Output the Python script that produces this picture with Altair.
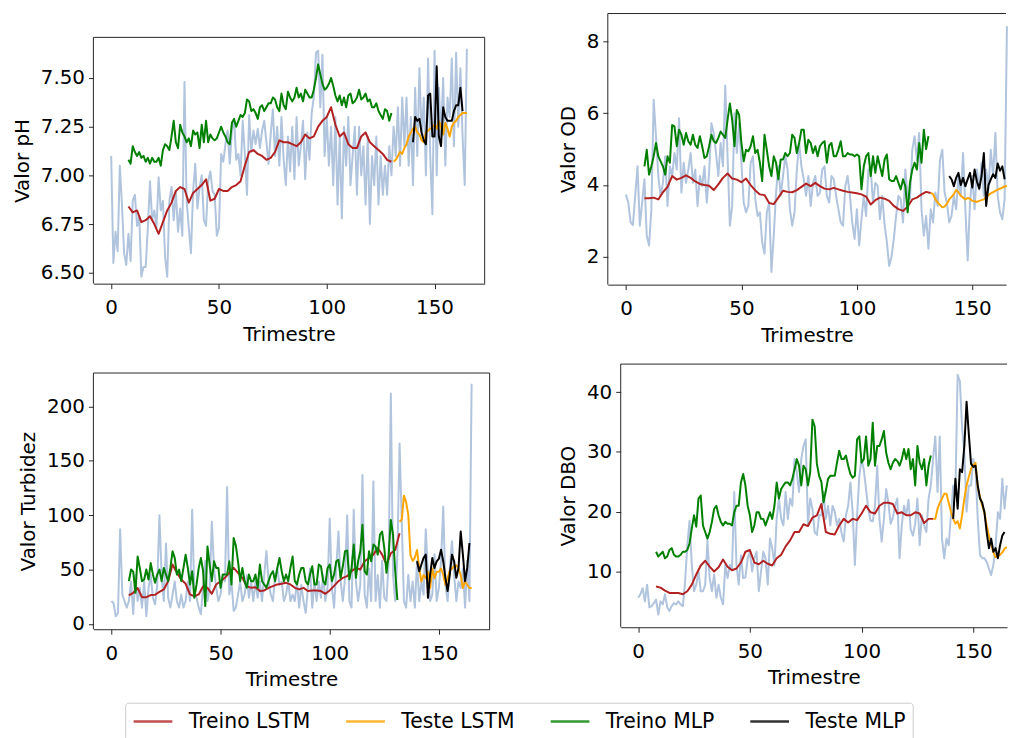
import altair as alt
import pandas as pd

# ---------------- data ----------------
T_TICKS = [0, 50, 100, 150]
SERIES = ["Treino LSTM", "Teste LSTM", "Treino MLP", "Teste MLP"]
COLORS = ["#b22222", "#ffa500", "#008000", "#000000"]
RAW_COLOR = "#b0c4de"
FRAME = "#262626"

# ---- pH ----
PH_RAW = [7.10, 6.55, 6.71, 6.61, 7.05, 6.85, 6.60, 6.54, 6.70, 6.56,
          6.87, 6.90, 6.74, 6.79, 6.48, 6.53, 6.53, 6.73, 6.97, 6.77,
          6.82, 6.73, 6.99, 6.82, 6.87, 6.58, 6.48, 6.87, 6.94, 6.77,
          6.92, 6.71, 6.83, 6.69, 7.48, 6.87, 6.73, 6.60, 6.92, 7.06,
          6.83, 6.94, 7.00, 6.77, 6.74, 6.97, 7.02, 6.92, 6.90, 6.69,
          6.73, 7.11, 7.07, 7.16, 7.23, 7.06, 7.23, 7.29, 7.08, 7.11,
          7.00, 7.28, 7.11, 6.90, 7.31, 7.12, 7.23, 7.16, 7.24, 7.14,
          7.23, 7.28, 7.17, 7.06, 7.21, 7.34, 7.10, 7.25, 7.05, 7.30,
          7.08, 6.95, 7.20, 7.02, 7.25, 6.98, 7.30, 7.05, 7.15, 7.28,
          6.98, 7.22, 7.08, 7.32, 7.40, 7.63, 7.64, 7.35, 7.62, 7.10,
          7.30, 7.05, 7.25, 6.95, 7.30, 6.85, 7.20, 6.78, 7.25, 7.05,
          7.30, 6.95, 7.10, 7.25, 6.90, 7.25, 7.00, 7.15, 6.85, 7.20,
          6.75, 7.10, 6.95, 7.20, 6.85, 7.10, 6.90, 7.05, 6.90, 7.15,
          7.00, 7.25, 7.10, 7.35, 7.05, 7.40, 7.15, 7.40, 7.05, 7.30,
          6.95, 7.45, 7.10, 7.55, 7.20, 7.40, 7.00, 7.60, 7.10, 6.80,
          7.64, 7.00, 7.45, 7.20, 7.50, 7.05, 7.40, 7.30, 7.60, 7.15,
          7.63, 7.25, 7.55, 7.20, 6.95, 7.65]
PH_LSTM_TREINO = [6.84, 6.81, 6.82, 6.76, 6.77, 6.79, 6.75, 6.70, 6.76, 6.82,
                  6.86, 6.92, 6.94, 6.93, 6.86, 6.91, 6.93, 6.95, 6.98, 6.87,
                  6.88, 6.93, 6.92, 6.92, 6.94, 6.95, 6.97, 7.05, 7.12, 7.13,
                  7.11, 7.10, 7.08, 7.09, 7.12, 7.18, 7.17, 7.17, 7.16, 7.15,
                  7.17, 7.21, 7.19, 7.20, 7.25, 7.28, 7.30, 7.35, 7.26, 7.20,
                  7.22, 7.16, 7.14, 7.14, 7.20, 7.22, 7.17, 7.15, 7.13, 7.11,
                  7.08, 7.07]
PH_LSTM_TESTE = [7.07, 7.08, 7.10, 7.12, 7.11, 7.14, 7.16, 7.20, 7.22, 7.24,
                 7.25, 7.22, 7.21, 7.18, 7.17, 7.22, 7.23, 7.24, 7.25, 7.26,
                 7.24, 7.28, 7.25, 7.21, 7.27, 7.24, 7.20, 7.25, 7.27, 7.28,
                 7.30, 7.31, 7.32, 7.32, 7.32]
PH_MLP_TREINO = [7.08, 7.06, 7.15, 7.12, 7.10, 7.12, 7.09, 7.10, 7.07, 7.09,
                 7.06, 7.09, 7.07, 7.07, 7.09, 7.05, 7.13, 7.16, 7.15, 7.13,
                 7.20, 7.28, 7.17, 7.14, 7.26, 7.22, 7.20, 7.17, 7.19, 7.15,
                 7.23, 7.21, 7.22, 7.14, 7.26, 7.17, 7.28, 7.17, 7.21, 7.19,
                 7.18, 7.19, 7.22, 7.25, 7.22, 7.20, 7.17, 7.16, 7.27, 7.29,
                 7.25, 7.28, 7.31, 7.30, 7.32, 7.39, 7.38, 7.33, 7.34, 7.32,
                 7.29, 7.35, 7.36, 7.33, 7.35, 7.37, 7.37, 7.40, 7.39, 7.35,
                 7.33, 7.42, 7.36, 7.34, 7.43, 7.40, 7.38, 7.40, 7.45, 7.40,
                 7.42, 7.38, 7.44, 7.42, 7.40, 7.40, 7.44, 7.50, 7.57, 7.52,
                 7.47, 7.44, 7.45, 7.47, 7.50, 7.46, 7.41, 7.38, 7.41, 7.36,
                 7.40, 7.35, 7.41, 7.42, 7.37, 7.38, 7.40, 7.44, 7.39, 7.40,
                 7.42, 7.38, 7.39, 7.35, 7.35, 7.37, 7.33, 7.31, 7.29, 7.34,
                 7.33, 7.28, 7.32]
PH_MLP_TESTE = [7.17, 7.30, 7.28, 7.29, 7.22, 7.18, 7.16, 7.41, 7.42, 7.20,
                7.20, 7.56, 7.20, 7.15, 7.35, 7.30, 7.28, 7.28, 7.28, 7.33,
                7.36, 7.36, 7.45, 7.33]

# ---- OD ----
OD_RAW = [3.74, 3.51, 2.96, 2.89, 3.70, 4.52, 2.87, 3.51, 4.16, 2.59,
          2.32, 3.33, 6.37, 5.36, 4.25, 3.70, 4.06, 4.80, 3.42, 4.52,
          4.25, 4.89, 4.43, 5.86, 3.79, 4.62, 4.06, 4.43, 4.89, 4.06,
          4.43, 3.42, 4.25, 3.97, 4.52, 3.51, 4.34, 5.72, 5.45, 4.89,
          4.25, 5.17, 4.52, 6.77, 4.80, 2.87, 3.42, 6.00, 4.89, 5.72,
          4.62, 3.51, 3.24, 3.42, 4.62, 4.80, 3.61, 3.14, 3.24, 2.41,
          2.09, 3.24, 3.51, 1.58, 2.59, 3.79, 4.52, 3.70, 4.25, 4.80,
          4.43, 3.33, 2.87, 3.24, 4.43, 5.17, 4.52, 4.16, 3.70,
          4.25, 3.42, 4.06, 4.25, 3.70, 3.79, 4.43, 4.52, 3.70, 3.51,
          4.25, 4.16, 3.70, 3.33, 2.96, 2.87, 3.97, 4.25, 3.70, 2.96,
          2.50, 3.33, 2.32, 3.05, 3.70, 3.14, 4.43, 4.43, 3.51, 4.06,
          3.97, 3.05, 3.70, 2.90, 2.41, 1.75, 2.00, 2.50, 3.14, 3.70,
          3.60, 2.96, 4.43, 3.70, 3.61, 4.98, 5.36, 4.70, 5.45, 3.33,
          2.59, 3.14, 2.23, 3.33, 2.96, 3.79, 3.42, 4.70, 4.98, 3.79,
          3.51, 2.96, 3.14, 3.70, 3.33, 4.25, 3.70, 4.89, 3.33, 1.90,
          3.51, 4.25, 3.33, 4.43, 3.88, 4.62, 3.70, 4.43, 3.88, 4.98,
          4.25, 5.45, 3.70, 3.24, 3.05, 3.60, 8.42]
OD_LSTM_TREINO = [3.63, 3.63, 3.65, 3.60, 3.80, 3.95, 4.25, 4.15, 4.20, 4.27,
                  4.20, 4.10, 4.03, 4.00, 3.98, 3.86, 4.02, 4.20, 4.32, 4.18,
                  4.15, 4.08, 4.18, 4.00, 3.85, 3.74, 3.72, 3.50, 3.47, 3.65,
                  3.84, 3.81, 3.80, 3.86, 3.95, 4.04, 3.97, 4.06, 3.97, 3.90,
                  3.88, 3.92, 3.88, 3.84, 3.81, 3.79, 3.77, 3.74, 3.68, 3.46,
                  3.58, 3.65, 3.62, 3.56, 3.42, 3.33, 3.28, 3.40, 3.60, 3.65,
                  3.74, 3.81, 3.78]
OD_LSTM_TESTE = [3.78, 3.75, 3.60, 3.52, 3.45, 3.38, 3.40, 3.48, 3.60, 3.67,
                 3.75, 3.86, 3.80, 3.70, 3.65, 3.60, 3.64, 3.62, 3.56, 3.55,
                 3.53, 3.56, 3.58, 3.60, 3.68, 3.72, 3.77, 3.80, 3.84, 3.87,
                 3.90, 3.93, 3.96, 3.98]
OD_MLP_TREINO = [4.52, 4.98, 4.29, 4.52, 4.80, 5.17, 4.80, 4.66, 4.52, 4.29,
                 4.80, 4.62, 5.67, 5.63, 5.08, 5.54, 5.40, 5.12, 5.45, 5.22,
                 5.12, 5.40, 5.12, 5.03, 5.36, 5.08, 4.75, 4.80, 5.08, 5.40,
                 5.22, 5.17, 5.31, 5.49, 5.40, 5.31, 5.81, 6.27, 5.81, 5.08,
                 6.09, 5.95, 5.17, 4.66, 4.98, 4.94, 5.08, 5.36, 4.89, 4.98,
                 4.62, 4.11, 5.40, 4.98, 4.52, 4.25, 4.80, 4.62, 4.16, 4.71,
                 4.71, 4.89, 4.80, 4.89, 5.40, 5.31, 4.89, 5.17, 5.54, 5.54,
                 4.89, 5.26, 5.17, 4.89, 5.08, 4.80, 5.08, 5.17, 5.22, 4.62,
                 5.10, 5.17, 4.80, 4.80, 4.98, 5.22, 4.80, 4.80, 4.89, 4.85,
                 4.85, 4.80, 4.85, 4.80, 3.88, 4.52, 4.80, 4.89, 4.25, 4.80,
                 4.34, 4.80, 4.52, 4.25, 4.71, 4.85, 4.16, 4.11, 4.11, 4.25,
                 4.06, 3.88, 4.16, 3.97, 3.24, 4.06, 4.43, 4.62, 4.43, 5.17,
                 4.62, 5.54, 5.00, 5.36]
OD_MLP_TESTE = [4.25, 4.16, 3.97, 4.20, 4.34, 4.00, 4.20, 3.97, 4.16, 4.34,
                3.93, 4.43, 4.10, 3.90, 4.25, 4.89, 3.42, 4.00, 4.16, 4.30,
                4.20, 4.60, 4.40, 4.52, 4.16]

# ---- Turbidez ----
TURB_RAW = [21, 19, 7, 10, 87, 27, 21, 15, 21, 39,
            9, 45, 21, 33, 15, 39, 7, 33, 45, 24,
            18, 36, 100, 45, 21, 74, 24, 15, 27, 39,
            21, 15, 27, 15, 21, 39, 21, 105, 27, 24,
            15, 9, 36, 58, 21, 33, 94, 51, 33, 21,
            27, 45, 39, 126, 27, 39, 12, 15, 27, 39,
            21, 27, 45, 24, 39, 21, 39, 24, 39, 21,
            45, 67, 39, 27, 21, 45, 51, 36, 39, 21,
            27, 39, 21,
            27, 21, 39, 15, 36, 21, 10, 33, 51, 15,
            39, 21, 39, 24, 45, 21, 33, 97, 33, 15,
            51, 85, 39, 21, 42, 100, 21, 15, 105, 39,
            21, 36, 137, 27, 15, 51, 21, 131, 21, 45,
            15, 58, 24, 21, 58, 212, 45, 21, 64, 166,
            94, 21, 15, 45, 21, 39, 15, 58, 21, 39,
            27, 87, 45, 21, 27, 64, 21, 33, 58, 108,
            36, 21, 51, 76, 45, 21, 39, 33, 51, 15,
            58, 21, 221]
TURB_LSTM_TREINO = [26.2, 28.6, 33.0, 24.6, 24.6, 26.5, 26.8, 29.5, 31.7, 39.3,
                    54.6, 47.0, 40.8, 36.9, 27.1, 25.3, 27.1, 34.7, 33.2, 27.7,
                    36.3, 39.3, 42.4, 47.0, 51.5, 47.0, 42.4, 34.7, 33.2, 33.8,
                    30.2, 30.8, 33.2, 34.7, 36.3, 36.9, 37.8, 36.3, 33.2, 31.7,
                    33.2, 30.2, 30.8, 30.8, 30.2, 27.7, 30.8, 35.0, 39.3, 42.4,
                    44.0, 48.5, 51.5, 50.0, 57.6, 60.7, 63.7, 69.8, 63.7, 54.6,
                    65.0, 68.0, 83.5]
TURB_LSTM_TESTE = [94, 96, 118, 112, 100, 63, 58, 61, 68, 51,
                   39, 45, 42, 48, 33, 51, 42, 48, 48, 51,
                   45, 36, 42, 49, 51, 53, 54, 51, 45, 33,
                   39, 36, 33, 33]
TURB_MLP_TREINO = [39.3, 50.0, 48.0, 28.6, 62.0, 51.5, 39.3, 40.8, 50.0, 40.8,
                   56.0, 45.4, 37.8, 45.4, 50.0, 39.3, 51.5, 45.4, 39.3, 51.5,
                   66.8, 60.7, 45.4, 50.0, 39.3, 51.5, 63.7, 51.5, 36.3, 48.5,
                   24.0, 36.3, 51.5, 60.7, 48.5, 16.4, 71.3, 54.6, 39.3, 57.6,
                   51.5, 51.5, 33.2, 45.4, 45.4, 45.4, 57.6, 36.3, 79.0, 72.0,
                   57.6, 39.3, 51.5, 39.3, 33.2, 45.4, 39.3, 39.3, 45.4, 33.2,
                   54.6, 39.3, 36.3, 33.2, 39.3, 45.4, 48.5, 39.3, 51.5, 60.7,
                   48.5, 39.3, 45.4, 39.3, 51.5, 62.0, 39.3, 36.3, 45.4, 51.5,
                   51.5, 39.3, 36.3, 45.4, 53.0, 36.3, 36.3, 54.6, 53.0, 39.3,
                   36.3, 51.5, 54.6, 39.3, 45.4, 57.6, 59.0, 42.4, 53.0, 66.8,
                   67.4, 41.0, 51.5, 73.0, 42.4, 57.6, 66.8, 91.2, 48.5, 45.4,
                   66.8, 57.6, 73.0, 71.3, 63.7, 82.0, 85.0, 69.8, 47.0, 63.7,
                   95.7, 82.0, 48.5, 22.0]
TURB_MLP_TESTE = [57.6, 48.5, 54.6, 60.7, 63.7, 24.0, 45.4, 60.7, 51.5, 57.6,
                  60.0, 68.3, 57.6, 42.4, 30.2, 45.4, 63.7, 57.6, 42.4, 51.5,
                  85.0, 63.7, 39.3, 51.5, 74.4]

# ---- DBO ----
DBO_RAW = [5.6, 6.2, 7.2, 5.0, 7.8, 4.0, 4.2, 4.7, 5.3, 2.8,
           5.0, 4.5, 6.2, 4.0, 3.4, 4.2, 4.7, 4.5, 5.0, 4.5,
           4.2, 8.3, 14.4, 18.5, 11.1, 6.7, 7.8, 10.0, 6.7, 6.7,
           7.8, 15.2, 8.9, 6.7, 9.5, 5.6, 7.8, 5.6, 4.5, 11.1,
           8.9, 11.1, 10.5, 23.3, 11.1, 7.8, 12.7, 8.9, 9.0, 12.2,
           13.3, 10.0, 12.2, 13.3, 6.7, 10.0, 13.3, 12.2, 7.8, 15.5,
           13.9, 11.1, 18.8, 22.2, 18.8, 17.7, 23.3, 18.8, 22.2, 21.0,
           28.8, 26.6, 23.3, 28.8, 31.0, 32.1, 17.7, 22.2, 20.5, 16.6,
           16.1, 19.4, 19.4, 23.3, 18.8, 21.0, 17.7, 21.0, 20.0, 17.7,
           18.8, 16.5, 15.0, 19.4, 21.0, 24.9, 20.0, 11.1, 19.4, 26.0,
           28.8, 27.0, 23.8, 20.5, 18.5, 18.4, 21.0, 27.7, 18.8, 15.0,
           18.8, 23.8, 21.5, 18.0, 19.0, 21.0, 22.2, 12.2, 17.7, 21.0,
           19.4, 22.0, 17.0, 16.0, 18.0, 22.2, 14.4, 19.4, 17.7, 16.6,
           22.2, 24.4, 28.8, 32.6, 23.3, 32.6, 15.5, 12.2, 15.5, 14.4,
           19.4, 24.4, 23.3, 42.9, 41.8, 34.0, 29.9, 20.0, 24.4, 24.4,
           28.8, 27.1, 18.8, 12.8, 12.2, 12.2, 11.6, 10.5, 9.4, 11.1,
           14.4, 19.9, 18.8, 25.5, 20.5, 24.4]
DBO_LSTM_TREINO = [7.5, 7.3, 6.8, 6.4, 6.4, 6.4, 6.2, 6.7, 7.8, 9.5,
                   11.0, 11.8, 10.8, 10.0, 10.7, 12.0, 10.8, 10.2, 10.5, 11.5,
                   13.3, 13.6, 11.5, 11.2, 11.8, 11.3, 11.0, 12.2, 12.8, 14.2,
                   15.2, 16.6, 16.6, 17.9, 17.6, 19.0, 19.4, 21.3, 16.6, 16.3,
                   16.2, 17.7, 18.8, 18.2, 18.8, 18.6, 19.7, 21.0, 19.9, 19.7,
                   21.0, 21.5, 21.5, 21.3, 19.7, 19.9, 19.4, 19.4, 19.9, 19.7,
                   18.1, 18.8, 18.8]
DBO_LSTM_TESTE = [18.8, 18.8, 20.5, 21.5, 22.2, 23.0, 23.0, 21.5, 20.0, 18.8,
                  18.0, 18.4, 17.2, 19.4, 22.2, 24.4, 25.8, 27.2, 27.8, 28.2,
                  24.0, 22.5, 21.0, 19.9, 17.7, 16.0, 14.5, 13.2, 12.4, 12.5,
                  12.8, 13.2, 13.8, 14.1]
DBO_MLP_TREINO = [13.3, 12.5, 12.9, 13.3, 12.2, 12.5, 13.6, 13.9, 12.8, 12.5,
                  12.5, 12.8, 13.3, 13.3, 13.6, 14.7, 17.2, 19.4, 17.5, 22.2,
                  22.7, 17.7, 16.6, 15.5, 16.6, 18.3, 20.5, 21.0, 19.4, 18.3,
                  17.7, 18.3, 18.0, 18.0, 17.7, 19.9, 21.0, 21.0, 24.9, 26.3,
                  24.4, 21.0, 19.4, 16.6, 17.7, 19.9, 19.9, 18.8, 18.8, 17.7,
                  18.8, 19.9, 18.8, 21.0, 24.9, 22.2, 23.8, 24.4, 24.9, 24.9,
                  24.4, 25.5, 27.1, 28.8, 27.7, 24.4, 27.7, 27.1, 24.4, 26.6,
                  35.4, 34.3, 28.0, 26.0, 25.0, 21.6, 23.5, 25.5, 26.0, 26.0,
                  26.0, 28.2, 30.2, 28.8, 28.8, 29.4, 27.7, 26.3, 25.7, 26.0,
                  32.1, 32.6, 28.2, 28.8, 32.6, 27.7, 28.8, 34.9, 27.7, 31.0,
                  31.0, 32.1, 33.5, 29.9, 28.2, 27.1, 28.2, 28.8, 28.5, 27.7,
                  28.8, 30.5, 28.8, 30.5, 27.1, 28.8, 24.4, 31.0, 28.2, 27.1,
                  28.8, 24.4, 27.7, 29.4]
DBO_MLP_TESTE = [18.8, 25.5, 20.5, 27.1, 26.6, 31.0, 38.4, 33.0, 28.0, 27.5,
                 27.7, 24.4, 22.2, 21.5, 19.9, 16.6, 13.9, 15.5, 13.3, 13.9,
                 12.2, 14.4, 16.0, 16.6]

# ---------------- chart ----------------
COLOR_ENC = alt.Color(
    "serie:N",
    scale=alt.Scale(domain=SERIES, range=COLORS),
    legend=alt.Legend(
        orient="none", legendX=32, legendY=694, direction="horizontal",
        title=None, symbolType="stroke", symbolSize=1521, symbolStrokeWidth=2.5,
        symbolOpacity=0.8, clipHeight=24, labelFontSize=20.5, labelFont="DejaVu Sans",
        labelColor="#000000", labelOffset=15, columnPadding=34, padding=7,
        strokeColor="#cccccc", fillColor="#ffffff", cornerRadius=3,
    ),
)


def panel(raw, segs, ytitle, ydom, yticks, yfmt, xdom, w, h, top_off=0,
          right_edge=True, title_y=None):
    x = alt.X("t:Q", scale=alt.Scale(domain=xdom, nice=False, zero=False),
              axis=alt.Axis(values=T_TICKS, title="Trimestre", labelPadding=9,
                            titlePadding=7, labelFlush=False))
    yax = dict(values=yticks, format=yfmt, title=ytitle, labelPadding=4,
               titlePadding=8, labelFlush=False, domain=False)
    if title_y is not None:
        yax["titleY"] = title_y
    y = alt.Y("v:Q", scale=alt.Scale(domain=ydom, nice=False, zero=False),
              axis=alt.Axis(**yax))
    raw_df = pd.DataFrame({"t": list(range(len(raw))), "v": raw})
    layers = [alt.Chart(raw_df).mark_line(color=RAW_COLOR, strokeWidth=2, strokeJoin="round")
              .encode(x=x, y=y)]
    for name, start, step, vals in segs:
        df = pd.DataFrame({"t": [start + step * i for i in range(len(vals))],
                           "v": vals, "serie": name})
        layers.append(alt.Chart(df).mark_line(strokeWidth=2, strokeJoin="round")
                      .encode(x=x, y=y, color=COLOR_ENC))
    edge = pd.DataFrame({"e": [0]})
    layers.append(alt.Chart(edge).mark_rule(color=FRAME, strokeWidth=1)
                  .encode(x=alt.value(0), x2=alt.value(w), y=alt.value(top_off)))
    layers.append(alt.Chart(edge).mark_rule(color=FRAME, strokeWidth=1)
                  .encode(x=alt.value(0), y=alt.value(top_off), y2=alt.value(h)))
    if right_edge:
        layers.append(alt.Chart(edge).mark_rule(color=FRAME, strokeWidth=1)
                      .encode(x=alt.value(w), y=alt.value(top_off), y2=alt.value(h)))
    return alt.layer(*layers).properties(width=w, height=h)


p1 = panel(PH_RAW,
           [("Treino LSTM", 8, 2, PH_LSTM_TREINO), ("Teste LSTM", 131, 1, PH_LSTM_TESTE),
            ("Treino MLP", 8, 1, PH_MLP_TREINO), ("Teste MLP", 140, 1, PH_MLP_TESTE)],
           "Valor pH", [6.444, 7.831], [6.5, 6.75, 7.0, 7.25, 7.5], ".2f",
           [-8.25, 173.25], 394, 272, top_off=24, right_edge=True, title_y=148)
p2 = panel(OD_RAW,
           [("Treino LSTM", 8, 2, OD_LSTM_TREINO), ("Teste LSTM", 132, 1, OD_LSTM_TESTE),
            ("Treino MLP", 8, 1, OD_MLP_TREINO), ("Teste MLP", 140, 1, OD_MLP_TESTE)],
           "Valor OD", [1.23, 8.77], [2, 4, 6, 8], "d",
           [-7.87, 164.6], 401, 273, top_off=0, right_edge=False)
p3 = panel(TURB_RAW,
           [("Treino LSTM", 8, 2, TURB_LSTM_TREINO), ("Teste LSTM", 132, 1, TURB_LSTM_TESTE),
            ("Treino MLP", 8, 1, TURB_MLP_TREINO), ("Teste MLP", 140, 1, TURB_MLP_TESTE)],
           "Valor Turbidez", [-4.9, 239.93], [0, 50, 100, 150, 200], "d",
           [-8.25, 173.25], 399, 268, top_off=10, right_edge=True, title_y=139)
p4 = panel(DBO_RAW,
           [("Treino LSTM", 8, 2, DBO_LSTM_TREINO), ("Teste LSTM", 132, 1, DBO_LSTM_TESTE),
            ("Treino MLP", 8, 1, DBO_MLP_TREINO), ("Teste MLP", 141, 1, DBO_MLP_TESTE)],
           "Valor DBO", [0.67, 44.7], [10, 20, 30, 40], "d",
           [-7.82, 165.1], 389, 265, top_off=0, right_edge=False)

chart = (
    alt.concat(p1, p2, p3, p4, columns=2,
               spacing=alt.RowColnumber(row=18, column=68), align="none")
    .properties(padding={"left": 4, "top": 2, "right": 0, "bottom": 0})
    .configure(font="DejaVu Sans")
    .configure_view(stroke=None)
    .configure_axis(labelFont="DejaVu Sans", titleFont="DejaVu Sans", labelFontSize=20,
                    titleFontSize=20, titleFontWeight="normal", labelColor="#000000",
                    titleColor="#000000", tickColor=FRAME, domainColor=FRAME,
                    tickSize=5, tickWidth=1, domainWidth=1, grid=False)
)

chart.save("out.html", embed_options={"renderer": "svg", "actions": False})
